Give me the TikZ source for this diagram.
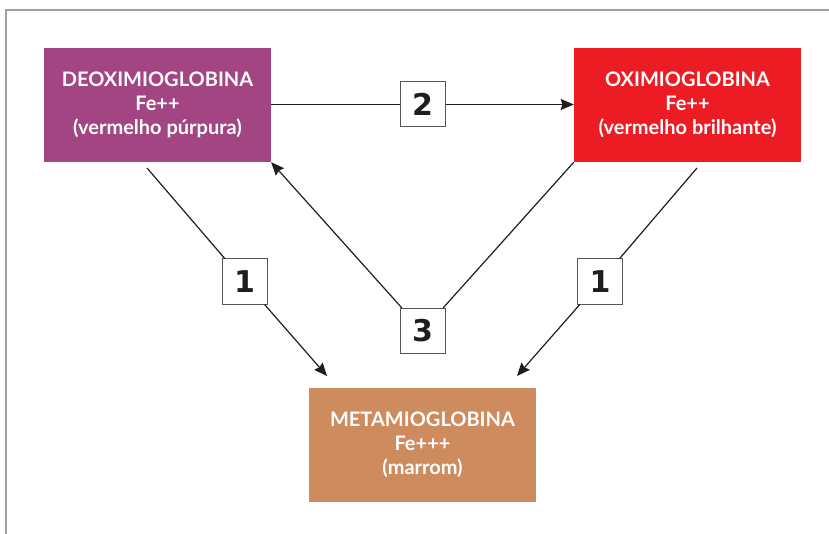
\documentclass[tikz,border=0pt]{standalone}
\usepackage{fontspec}
\setmainfont{Lato}
\newfontfamily\numfont{DejaVu Sans}
\usetikzlibrary{arrows.meta}
\definecolor{deoxi}{HTML}{A34582}
\definecolor{oxi}{HTML}{ED1C24}
\definecolor{meta}{HTML}{CD8B5E}
\definecolor{frame}{HTML}{A0A0A0}
\definecolor{numline}{HTML}{555555}
\definecolor{conn}{HTML}{1E1E1E}
\begin{document}
\begin{tikzpicture}[x=1bp,y=-1bp,
  statebox/.style={minimum width=227bp,minimum height=114bp,inner sep=0pt,
    text=white,align=center,font=\fontsize{20bp}{24bp}\selectfont\bfseries},
  numbox/.style={draw=numline,line width=1bp,fill=white,minimum size=45bp,
    inner sep=0pt,font=\numfont\fontsize{30bp}{30bp}\selectfont\bfseries,text=conn},
  conline/.style={draw=conn,line width=1.2bp},
  arr/.style={conline,-{Stealth[length=13bp,width=11bp,inset=1.5bp]}}]
\useasboundingbox (0,0) rectangle (829,534);
\draw[frame,line width=1.5bp] (6,534) -- (6,10) -- (829,10);
\node[statebox,fill=deoxi] (deoxi) at (157.5,105) {DEOXIMIOGLOBINA\\Fe++\\(vermelho púrpura)};
\node[statebox,fill=oxi] (oxi) at (687.5,105) {OXIMIOGLOBINA\\Fe++\\(vermelho brilhante)};
\node[statebox,fill=meta] (meta) at (422.5,445) {METAMIOGLOBINA\\Fe+++\\(marrom)};
\coordinate (a1s) at (147,168);
\coordinate (a1e) at (327,376);
\coordinate (b1s) at (697,168);
\coordinate (b1e) at (517,376);
\node[numbox] (n2) at (422.5,104.5) {2};
\node[numbox] (n1l) at (244.5,281.5) {1};
\node[numbox] (n1r) at (600,281.5) {1};
\node[numbox] (n3) at (422.5,331) {3};
\draw[conline] (deoxi.east |- n2) -- (n2);
\draw[arr] (n2) -- (oxi.west |- n2);
\draw[conline] (a1s) -- (n1l);
\draw[arr] (n1l) -- (a1e);
\draw[conline] (b1s) -- (n1r);
\draw[arr] (n1r) -- (b1e);
\draw[conline] (oxi.south west) -- (n3);
\draw[arr] (n3) -- (deoxi.south east);
\end{tikzpicture}
\end{document}
